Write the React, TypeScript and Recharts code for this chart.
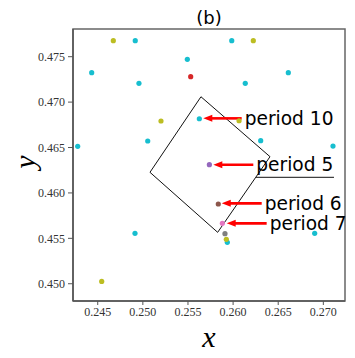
import React from 'react'
import { ScatterChart, Scatter, XAxis, YAxis, ReferenceLine, ReferenceArea } from 'recharts'

// point groups (x, y)
const cyanPts = [
  { x: 0.24916, y: 0.47676 }, { x: 0.25985, y: 0.47676 }, { x: 0.24433, y: 0.47324 },
  { x: 0.24957, y: 0.47207 }, { x: 0.25493, y: 0.47471 }, { x: 0.26612, y: 0.47324 },
  { x: 0.26135, y: 0.47207 }, { x: 0.24278, y: 0.46513 }, { x: 0.25054, y: 0.46572 },
  { x: 0.25626, y: 0.46817 }, { x: 0.26306, y: 0.46575 }, { x: 0.27107, y: 0.46516 },
  { x: 0.24913, y: 0.45555 }, { x: 0.25936, y: 0.45456 }, { x: 0.26904, y: 0.45555 },
]
const olivePts = [
  { x: 0.24673, y: 0.47676 }, { x: 0.26224, y: 0.47676 }, { x: 0.25201, y: 0.46792 },
  { x: 0.26066, y: 0.46795 }, { x: 0.24544, y: 0.45026 }, { x: 0.25925, y: 0.45489 },
]
const redPts = [{ x: 0.2553, y: 0.4728 }]
const purplePts = [{ x: 0.25737, y: 0.46311 }]
const brownPts = [{ x: 0.25836, y: 0.45878 }]
const pinkPts = [{ x: 0.25881, y: 0.45665 }]
const grayPts = [{ x: 0.2591, y: 0.45551 }]

// rotated square corners, plus the loose horizontal stroke
const squareCorners = [
  { x: 0.25644, y: 0.47059 },
  { x: 0.26409, y: 0.46399 },
  { x: 0.25829, y: 0.45566 },
  { x: 0.25079, y: 0.46227 },
]
const hLine = [{ x: 0.26254, y: 0.46172 }, { x: 0.27118, y: 0.46172 }]

// annotations: label, tail, head
const labels = ['period 10', 'period 5', 'period 6', 'period 7']
const tails = [
  { x: 0.26095, y: 0.46821 }, { x: 0.26224, y: 0.46311 },
  { x: 0.26317, y: 0.45885 }, { x: 0.26372, y: 0.45665 },
]
const heads = [
  { x: 0.2567, y: 0.46821 }, { x: 0.25781, y: 0.46311 },
  { x: 0.25874, y: 0.45885 }, { x: 0.25929, y: 0.45665 },
]

const xTicks = [0.245, 0.25, 0.255, 0.26, 0.265, 0.27]
const yTicks = [0.45, 0.455, 0.46, 0.465, 0.47, 0.475]
const xDomain = [0.24226, 0.2724]
const yDomain = [0.4481, 0.47805]

const groups = [
  { data: cyanPts, color: '#17becf' },
  { data: olivePts, color: '#bcbd22' },
  { data: redPts, color: '#d62728' },
  { data: purplePts, color: '#9467bd' },
  { data: brownPts, color: '#8c564b' },
  { data: pinkPts, color: '#e377c2' },
  { data: grayPts, color: '#7f7f7f' },
]

const tickStyle = { fontFamily: '"Liberation Serif", serif', fontSize: 12, fill: '#333' }

const arrowShape = (label: string) => (props: any) => {
  const { x1, y1, x2, y2 } = props
  const hl = 9
  return (
    <g>
      <line x1={x1} y1={y1} x2={x2 + hl - 1} y2={y2} stroke="#f00" strokeWidth={2.6} />
      <polygon points={`${x2},${y2} ${x2 + hl},${y2 - 3.5} ${x2 + hl},${y2 + 3.5}`} fill="#f00" />
      <text
        x={x1 + 3}
        y={y1}
        dominantBaseline="central"
        fontFamily='"DejaVu Sans", sans-serif'
        fontSize={18.6}
        fill="#000"
      >
        {label}
      </text>
    </g>
  )
}

export default function App() {
  return (
    <div style={{ position: 'absolute', left: 0, top: 0, width: 355, height: 358, background: '#fff' }}>
      <ScatterChart width={355} height={358} margin={{ top: 29, right: 10, bottom: 0, left: 0 }}>
        <XAxis
          type="number"
          dataKey="x"
          domain={xDomain}
          ticks={xTicks}
          allowDataOverflow
          tickFormatter={(v: number) => v.toFixed(3)}
          tick={tickStyle}
          tickSize={4}
          tickMargin={2}
          height={57}
          axisLine={{ stroke: '#555', strokeWidth: 1.5 }}
          tickLine={{ stroke: '#555' }}
        />
        <YAxis
          type="number"
          dataKey="y"
          domain={yDomain}
          ticks={yTicks}
          allowDataOverflow
          tickFormatter={(v: number) => v.toFixed(3)}
          tick={tickStyle}
          tickSize={5}
          tickMargin={3}
          width={73}
          axisLine={{ stroke: '#555', strokeWidth: 1.5 }}
          tickLine={{ stroke: '#555' }}
        />
        <ReferenceArea
          x1={xDomain[0]}
          x2={xDomain[1]}
          y1={yDomain[0]}
          y2={yDomain[1]}
          fill="none"
          stroke="#666"
          strokeWidth={1.5}
          fillOpacity={0}
        />
        {squareCorners.map((p, i) => (
          <ReferenceLine
            key={'sq' + i}
            segment={[p, squareCorners[(i + 1) % squareCorners.length]]}
            stroke="#111"
            strokeWidth={1}
          />
        ))}
        <ReferenceLine segment={hLine} stroke="#111" strokeWidth={1} />
        {groups.map((g, i) => (
          <Scatter
            key={'g' + i}
            data={g.data}
            isAnimationActive={false}
            shape={(p: any) => <circle cx={p.cx} cy={p.cy} r={2.6} fill={g.color} />}
          />
        ))}
        {labels.map((lab, i) => (
          <ReferenceLine key={'a' + i} segment={[tails[i], heads[i]]} shape={arrowShape(lab)} />
        ))}
        <text x={209} y={17} textAnchor="middle" dominantBaseline="central" fontFamily='"DejaVu Sans", sans-serif' fontSize={18}>
          (b)
        </text>
        <text x={209} y={336} textAnchor="middle" dominantBaseline="central" fontFamily='"Liberation Serif", serif' fontStyle="italic" fontSize={30}>
          x
        </text>
        <text
          x={24}
          y={162}
          textAnchor="middle"
          dominantBaseline="central"
          fontFamily='"Liberation Serif", serif'
          fontStyle="italic"
          fontSize={30}
          transform="rotate(-90 24 162)"
        >
          y
        </text>
      </ScatterChart>
    </div>
  )
}
